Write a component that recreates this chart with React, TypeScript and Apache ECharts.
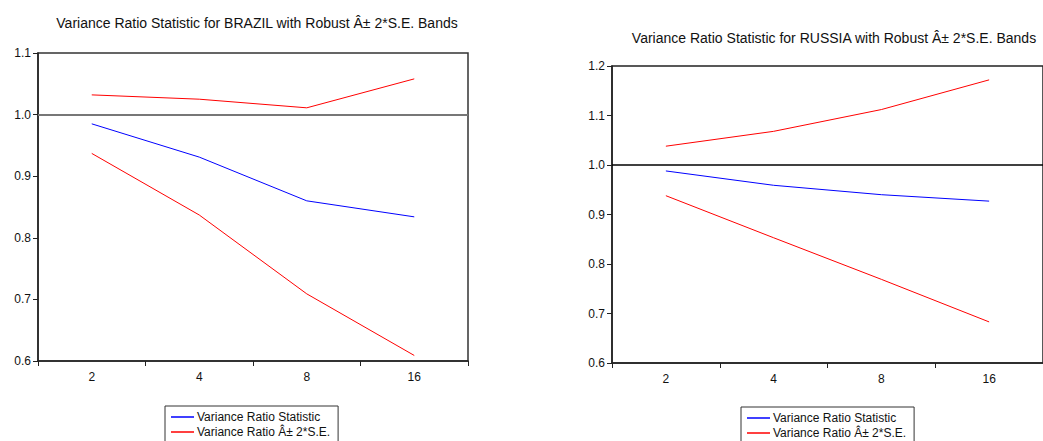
import React, { useEffect, useRef } from "react";
import * as echarts from "echarts";

const categories = ["2", "4", "8", "16"];

const brazilStat = [0.985, 0.931, 0.86, 0.834];
const brazilUpper = [1.032, 1.025, 1.011, 1.058];
const brazilLower = [0.937, 0.837, 0.709, 0.609];

const russiaStat = [0.988, 0.959, 0.94, 0.927];
const russiaUpper = [1.038, 1.068, 1.112, 1.172];
const russiaLower = [0.938, 0.853, 0.769, 0.683];

const titleBrazil = "Variance Ratio Statistic for BRAZIL with Robust Â± 2*S.E. Bands";
const titleRussia = "Variance Ratio Statistic for RUSSIA with Robust Â± 2*S.E. Bands";
const statName = "Variance Ratio Statistic";
const bandName = "Variance Ratio Â± 2*S.E.";

const FONT = "'Liberation Sans', Arial, sans-serif";

export default function App() {
  const ref = useRef<HTMLDivElement>(null);
  useEffect(() => {
    if (!ref.current) return;
    const chart = echarts.init(ref.current, undefined, { renderer: "svg" });
    const axisLine = (c: string, w: number) => ({ show: true, lineStyle: { color: c, width: w } });
    const xAxisBase = (gridIndex: number) => ({
      type: "category",
      gridIndex,
      data: categories,
      boundaryGap: true,
      axisLine: axisLine("#222", 1.5),
      axisTick: { show: true, inside: false, length: 5, alignWithLabel: false, lineStyle: { color: "#222" } },
      axisLabel: { color: "#111", fontSize: 12, fontFamily: FONT, margin: 10 },
      splitLine: { show: false },
    });
    const yAxisBase = (gridIndex: number, max: number) => ({
      type: "value",
      gridIndex,
      min: 0.6,
      max,
      interval: 0.1,
      axisLine: axisLine("#222", 1.5),
      axisTick: { show: true, inside: false, length: 5, lineStyle: { color: "#222" } },
      axisLabel: {
        color: "#111",
        fontSize: 12,
        fontFamily: FONT,
        margin: 7,
        formatter: (v: number) => v.toFixed(1),
      },
      splitLine: { show: false },
    });
    const line = (name: string, data: number[], color: string, idx: number, mark?: any) => ({
      type: "line",
      name,
      data,
      xAxisIndex: idx,
      yAxisIndex: idx,
      symbol: "none",
      lineStyle: { color, width: 1 },
      itemStyle: { color },
      ...(mark ? { markLine: mark } : {}),
    });
    const refLine = (color: string, width: number) => ({
      silent: true,
      symbol: "none",
      label: { show: false },
      lineStyle: { color, width, type: "solid" },
      data: [{ yAxis: 1.0 }],
    });
    const legend = (left: number, top: number) => ({
      orient: "vertical",
      left,
      top,
      height: 60,
      data: [statName, bandName],
      icon: "rect",
      itemWidth: 23,
      itemHeight: 1.5,
      itemGap: 3,
      borderColor: "#333",
      borderWidth: 1,
      padding: [5, 8, 6, 6],
      textStyle: { fontSize: 12, color: "#111", fontFamily: FONT, padding: [0, 0, 0, -2] },
    });
    chart.setOption({
      animation: false,
      backgroundColor: "#fff",
      title: [
        {
          text: titleBrazil,
          left: 252,
          top: 11,
          textAlign: "center",
          textStyle: { fontSize: 14, fontWeight: "normal", color: "#111", fontFamily: FONT },
        },
        {
          text: titleRussia,
          left: 829,
          top: 26,
          textAlign: "center",
          textStyle: { fontSize: 14, fontWeight: "normal", color: "#111", fontFamily: FONT },
        },
      ],
      legend: [legend(165, 406), legend(741, 407)],
      grid: [
        { left: 38, top: 53, width: 430, height: 308, show: true, borderColor: "#333", borderWidth: 1.5, containLabel: false },
        { left: 612, top: 66, width: 434, height: 297, show: true, borderColor: "#222", borderWidth: 1.5, containLabel: false },
      ],
      xAxis: [xAxisBase(0), xAxisBase(1)],
      yAxis: [yAxisBase(0, 1.1), yAxisBase(1, 1.2)],
      series: [
        line(statName, brazilStat, "#0000ff", 0, refLine("#777", 2)),
        line(bandName, brazilUpper, "#ff0000", 0),
        line(bandName, brazilLower, "#ff0000", 0),
        line(statName, russiaStat, "#0000ff", 1, refLine("#000", 1.5)),
        line(bandName, russiaUpper, "#ff0000", 1),
        line(bandName, russiaLower, "#ff0000", 1),
      ],
    });
    return () => chart.dispose();
  }, []);
  return (
    <div
      ref={ref}
      style={{ position: "fixed", left: 0, top: 0, width: 1043, height: 441, background: "#fff" }}
    />
  );
}
